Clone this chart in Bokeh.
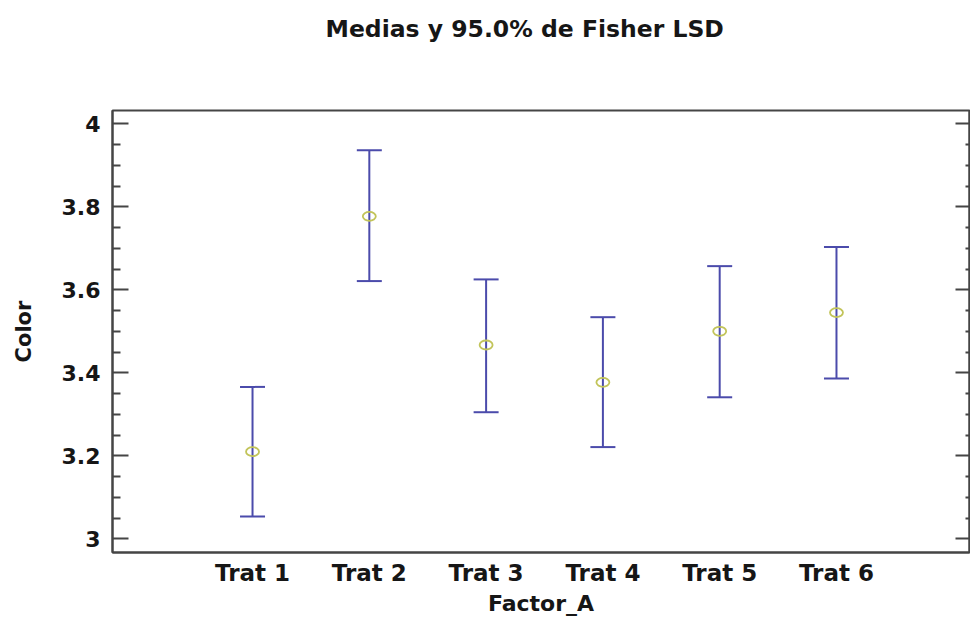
from bokeh.plotting import figure
from bokeh.models import (ColumnDataSource, FixedTicker, LinearAxis, Whisker,
                          TeeHead, NumeralTickFormatter, Range1d, Title)
from bokeh.embed import file_html
from bokeh.resources import INLINE

# ---- data ----
categories = ["Trat 1", "Trat 2", "Trat 3", "Trat 4", "Trat 5", "Trat 6"]
positions = [1, 2, 3, 4, 5, 6]
means = [3.210, 3.777, 3.467, 3.377, 3.500, 3.545]
lower = [3.054, 3.621, 3.305, 3.221, 3.341, 3.386]
upper = [3.366, 3.936, 3.625, 3.534, 3.657, 3.703]
y_ticks = [3.0, 3.2, 3.4, 3.6, 3.8, 4.0]
y_minor = [3.05, 3.10, 3.15, 3.25, 3.30, 3.35, 3.45, 3.50, 3.55,
           3.65, 3.70, 3.75, 3.85, 3.90, 3.95]
title_text = "Medias y 95.0% de Fisher LSD"
x_label = "Factor_A"
y_label = "Color"

FONT = "DejaVu Sans"
TEXT_COLOR = "#161616"
AXIS_COLOR = "#454545"
BAR_COLOR = "#4b4bab"
MARK_COLOR = "#c2c45a"

p = figure(width=970, height=619,
           x_range=Range1d(-0.199, 7.139), y_range=Range1d(2.967, 4.032),
           x_axis_type=None, y_axis_type=None,
           output_backend="svg", toolbar_location=None,
           min_border_left=112, min_border_right=1,
           min_border_top=110, min_border_bottom=67)

p.outline_line_color = AXIS_COLOR
p.outline_line_width = 2
p.background_fill_color = "white"
p.border_fill_color = "white"

# real title (default title slot)
p.title.text = title_text
p.title.text_font = FONT
p.title.text_font_size = "23.5px"
p.title.text_font_style = "bold"
p.title.text_color = TEXT_COLOR
p.title.align = "left"
p.title.offset = 213
p.title.standoff = 10

# spacer between title and frame
spacer = Title(text=" ", text_font_size="1px", standoff=60)
p.add_layout(spacer, "above")

# left axis
yaxis = LinearAxis(ticker=FixedTicker(ticks=y_ticks, minor_ticks=y_minor),
                   formatter=NumeralTickFormatter(format="0.[0]"),
                   axis_label=y_label)
yaxis.major_tick_in = 16
yaxis.major_tick_out = 0
yaxis.minor_tick_in = 8
yaxis.minor_tick_out = 0
yaxis.major_tick_line_width = 2
yaxis.minor_tick_line_width = 2
yaxis.major_tick_line_color = AXIS_COLOR
yaxis.minor_tick_line_color = AXIS_COLOR
yaxis.axis_line_color = AXIS_COLOR
yaxis.axis_line_width = 2
yaxis.major_label_standoff = 12
yaxis.axis_label_standoff = 23
yaxis.major_label_text_font = FONT
yaxis.major_label_text_font_size = "22px"
yaxis.major_label_text_font_style = "bold"
yaxis.major_label_text_color = TEXT_COLOR
yaxis.axis_label_text_font = FONT
yaxis.axis_label_text_font_size = "21px"
yaxis.axis_label_text_font_style = "bold"
yaxis.axis_label_text_color = TEXT_COLOR
p.add_layout(yaxis, "left")

# right axis (ticks only)
raxis = LinearAxis(ticker=FixedTicker(ticks=y_ticks, minor_ticks=y_minor),
                   major_label_overrides={t: "" for t in y_ticks})
raxis.major_tick_in = 14
raxis.major_tick_out = 0
raxis.minor_tick_in = 4
raxis.minor_tick_out = 0
raxis.major_tick_line_width = 2
raxis.minor_tick_line_width = 2
raxis.major_tick_line_color = AXIS_COLOR
raxis.minor_tick_line_color = AXIS_COLOR
raxis.axis_line_color = AXIS_COLOR
raxis.axis_line_width = 2
raxis.major_label_standoff = 0
p.add_layout(raxis, "right")

# bottom axis
xaxis = LinearAxis(ticker=FixedTicker(ticks=positions),
                   major_label_overrides={pos: cat for pos, cat in zip(positions, categories)},
                   axis_label=x_label)
xaxis.major_tick_in = 0
xaxis.major_tick_out = 0
xaxis.minor_tick_in = 0
xaxis.minor_tick_out = 0
xaxis.axis_line_color = AXIS_COLOR
xaxis.axis_line_width = 2
xaxis.major_label_standoff = 7
xaxis.axis_label_standoff = 2
xaxis.major_label_text_font = FONT
xaxis.major_label_text_font_size = "23px"
xaxis.major_label_text_font_style = "bold"
xaxis.major_label_text_color = TEXT_COLOR
xaxis.axis_label_text_font = FONT
xaxis.axis_label_text_font_size = "22px"
xaxis.axis_label_text_font_style = "bold"
xaxis.axis_label_text_color = TEXT_COLOR
p.add_layout(xaxis, "below")

src = ColumnDataSource(dict(x=positions, mean=means, lower=lower, upper=upper))

w = Whisker(source=src, base="x", upper="upper", lower="lower",
            line_color=BAR_COLOR, line_width=2,
            upper_head=TeeHead(size=25, line_color=BAR_COLOR, line_width=2),
            lower_head=TeeHead(size=25, line_color=BAR_COLOR, line_width=2))
p.add_layout(w)

p.ellipse(x="x", y="mean", width=13, height=9, width_units="screen",
          height_units="screen", source=src, fill_color=None,
          line_color=MARK_COLOR, line_width=1.8)

open("out.html", "w").write(file_html(p, INLINE))
